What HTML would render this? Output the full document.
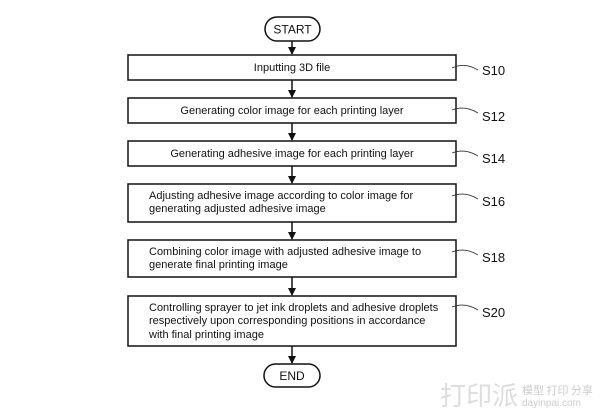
<!DOCTYPE html>
<html><head><style>
body{margin:0;background:#fff;}
svg text{font-family:"Liberation Sans",Arial,sans-serif;fill:#111;}
</style></head><body>
<svg width="600" height="410" viewBox="0 0 600 410" xmlns="http://www.w3.org/2000/svg">
<defs><marker id="a" markerWidth="8" markerHeight="8" refX="7" refY="4" orient="auto" markerUnits="userSpaceOnUse"><path d="M0,0 L8,4 L0,8 z" fill="#111"/></marker></defs>
<g fill="none" stroke="#111" stroke-width="1.5">
<rect x="265" y="17" width="55" height="24" rx="12"/>
<rect x="128" y="55" width="328" height="25"/>
<rect x="128" y="98" width="328" height="25"/>
<rect x="128" y="141" width="328" height="25"/>
<rect x="128" y="184" width="328" height="38"/>
<rect x="128" y="240" width="328" height="37"/>
<rect x="128" y="296" width="328" height="50"/>
<rect x="264" y="364" width="56" height="23" rx="11.5"/>
<line x1="292" y1="41" x2="292" y2="54" marker-end="url(#a)"/>
<line x1="292" y1="80" x2="292" y2="97" marker-end="url(#a)"/>
<line x1="292" y1="123" x2="292" y2="140" marker-end="url(#a)"/>
<line x1="292" y1="166" x2="292" y2="183" marker-end="url(#a)"/>
<line x1="292" y1="222" x2="292" y2="239" marker-end="url(#a)"/>
<line x1="292" y1="277" x2="292" y2="295" marker-end="url(#a)"/>
<line x1="292" y1="346" x2="292" y2="363" marker-end="url(#a)"/>
</g>
<g fill="none" stroke="#333" stroke-width="0.8">
<path d="M452,68 Q465,62 478,70"/>
<path d="M452,110 Q465,105 478,113"/>
<path d="M452,153 Q465,148 478,156"/>
<path d="M452,196 Q465,191 478,199"/>
<path d="M452,252 Q465,247 478,255"/>
<path d="M452,307 Q465,302 478,310"/>
</g>
<g font-size="11">
<text x="292.5" y="33.5" text-anchor="middle" font-size="12">START</text>
<text x="292" y="71" text-anchor="middle">Inputting 3D file</text>
<text x="292" y="114" text-anchor="middle">Generating color image for each printing layer</text>
<text x="292" y="157" text-anchor="middle">Generating adhesive image for each printing layer</text>
<text x="149" y="199">Adjusting adhesive image according to color image for</text>
<text x="149" y="212">generating adjusted adhesive image</text>
<text x="149" y="255">Combining color image with adjusted adhesive image to</text>
<text x="149" y="268">generate final printing image</text>
<text x="149" y="311">Controlling sprayer to jet ink droplets and adhesive droplets</text>
<text x="149" y="324">respectively upon corresponding positions in accordance</text>
<text x="149" y="338">with final printing image</text>
<text x="292" y="380" text-anchor="middle" font-size="12">END</text>
</g>
<g font-size="13">
<text x="482" y="75">S10</text>
<text x="482" y="121">S12</text>
<text x="482" y="163">S14</text>
<text x="482" y="206">S16</text>
<text x="482" y="262">S18</text>
<text x="482" y="317">S20</text>
</g>
<text x="440" y="405" font-size="26" style="fill:#ddd;font-family:'Noto Sans CJK SC',sans-serif">打印派</text>
<text x="522" y="394" font-size="11" style="fill:#ccc;font-family:'Noto Sans CJK SC',sans-serif">模型 打印 分享</text>
<text x="522" y="406" font-size="10" style="fill:#ccc">dayinpai.com</text>
</svg>
</body></html>
